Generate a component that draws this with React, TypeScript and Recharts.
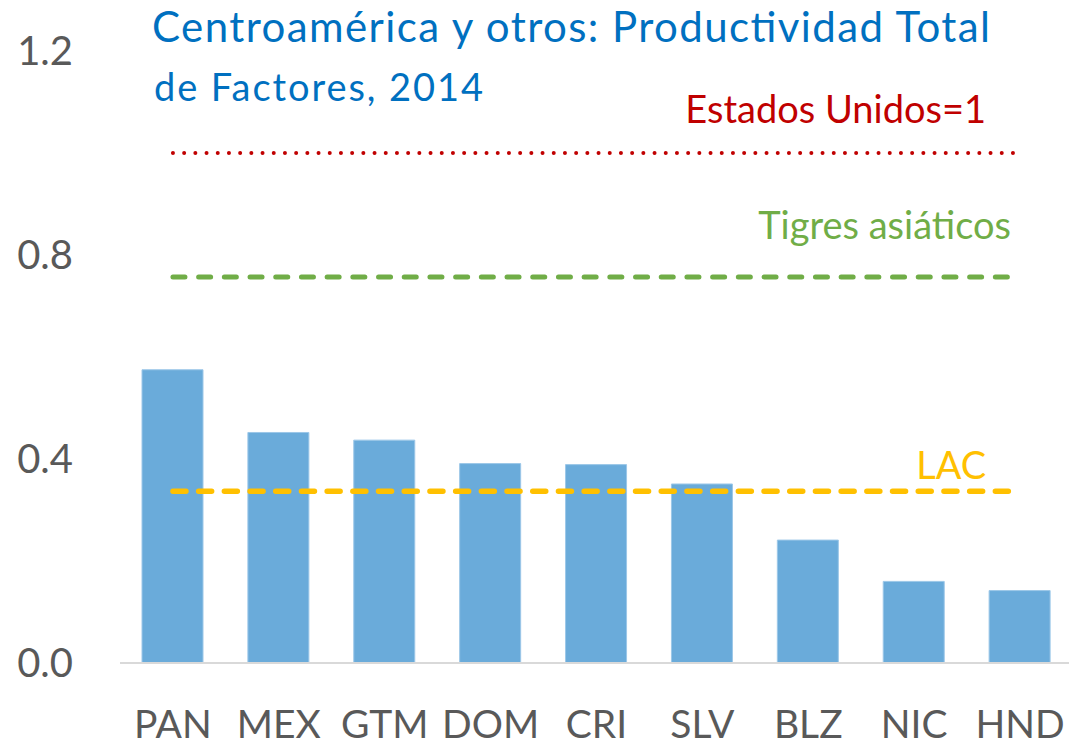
import React from 'react';
import { ComposedChart, Bar, Line, XAxis, YAxis } from 'recharts';

const countries = ['PAN', 'MEX', 'GTM', 'DOM', 'CRI', 'SLV', 'BLZ', 'NIC', 'HND'];
const ptf = [0.575, 0.452, 0.437, 0.391, 0.389, 0.351, 0.241, 0.16, 0.142];

// reference levels (United States = 1)
const usaLevel = 1.0;
const tigresLevel = 0.757;
const lacLevel = 0.337;

const yTicks = [0, 0.4, 0.8, 1.2];

const FONT = 'Lato, "Open Sans", sans-serif';
const GREY = '#595959';

const data = countries.map((country, i) => ({
    country,
    ptf: ptf[i],
    usa: usaLevel,
    tigres: tigresLevel,
    lac: lacLevel,
}));

const lastIndex = countries.length - 1;

const endLabel = (text: string, color: string, dx: number, dy: number) => (props: any) => {
    if (props.index !== lastIndex) return null;
    return (
        <text
            x={props.x + dx}
            y={props.y + dy}
            textAnchor="end"
            fill={color}
            fontSize={38}
            fontFamily={FONT}
        >
            {text}
        </text>
    );
};

export default function App() {
    return (
        <div
            style={{
                position: 'fixed',
                left: 0,
                top: 0,
                width: 1069,
                height: 747,
                overflow: 'hidden',
                background: '#fff',
            }}
        >
            <ComposedChart
                width={1080}
                height={747}
                data={data}
                margin={{ top: 51, right: 7, left: 0, bottom: 0 }}
            >
                <XAxis
                    dataKey="country"
                    height={84}
                    tickLine={false}
                    tickSize={0}
                    tickMargin={47.5}
                    axisLine={{ stroke: '#D9D9D9', strokeWidth: 2 }}
                    tick={{ fill: GREY, fontSize: 39, fontFamily: FONT }}
                    interval={0}
                />
                <YAxis
                    width={120}
                    domain={[0, 1.2]}
                    ticks={yTicks}
                    axisLine={false}
                    tickLine={false}
                    tickSize={0}
                    tickMargin={47}
                    tickFormatter={(v: number) => v.toFixed(1)}
                    tick={{ fill: GREY, fontSize: 40, fontFamily: FONT }}
                />
                <Bar
                    dataKey="ptf"
                    fill="#6AABDA"
                    stroke="#9CC7E8"
                    strokeWidth={1}
                    barSize={61}
                    isAnimationActive={false}
                />
                <Line
                    dataKey="usa"
                    stroke="#C00000"
                    strokeWidth={4}
                    strokeDasharray="0 11.2"
                    strokeLinecap="round"
                    dot={false}
                    activeDot={false}
                    isAnimationActive={false}
                    label={endLabel('Estados Unidos=1', '#C00000', -34, -30)}
                />
                <Line
                    dataKey="tigres"
                    stroke="#70AD47"
                    strokeWidth={5}
                    strokeDasharray="12 13.7"
                    strokeLinecap="round"
                    dot={false}
                    activeDot={false}
                    isAnimationActive={false}
                    label={endLabel('Tigres asiáticos', '#70AD47', -9, -38)}
                />
                <Line
                    dataKey="lac"
                    stroke="#FFC000"
                    strokeWidth={5.5}
                    strokeDasharray="13 12.7"
                    strokeLinecap="round"
                    dot={false}
                    activeDot={false}
                    isAnimationActive={false}
                    label={endLabel('LAC', '#FFC000', -34, -12)}
                />
            </ComposedChart>
            <svg
                width={1069}
                height={130}
                style={{ position: 'absolute', left: 0, top: 0, pointerEvents: 'none' }}
            >
                <text
                    x={152}
                    y={42}
                    fill="#0070C0"
                    fontSize={42}
                    fontFamily={FONT}
                    textLength={838}
                    lengthAdjust="spacing"
                >
                    Centroamérica y otros: Productividad Total
                </text>
                <text
                    x={154}
                    y={101}
                    fill="#0070C0"
                    fontSize={38}
                    fontFamily={FONT}
                    textLength={329}
                    lengthAdjust="spacing"
                >
                    de Factores, 2014
                </text>
            </svg>
        </div>
    );
}
